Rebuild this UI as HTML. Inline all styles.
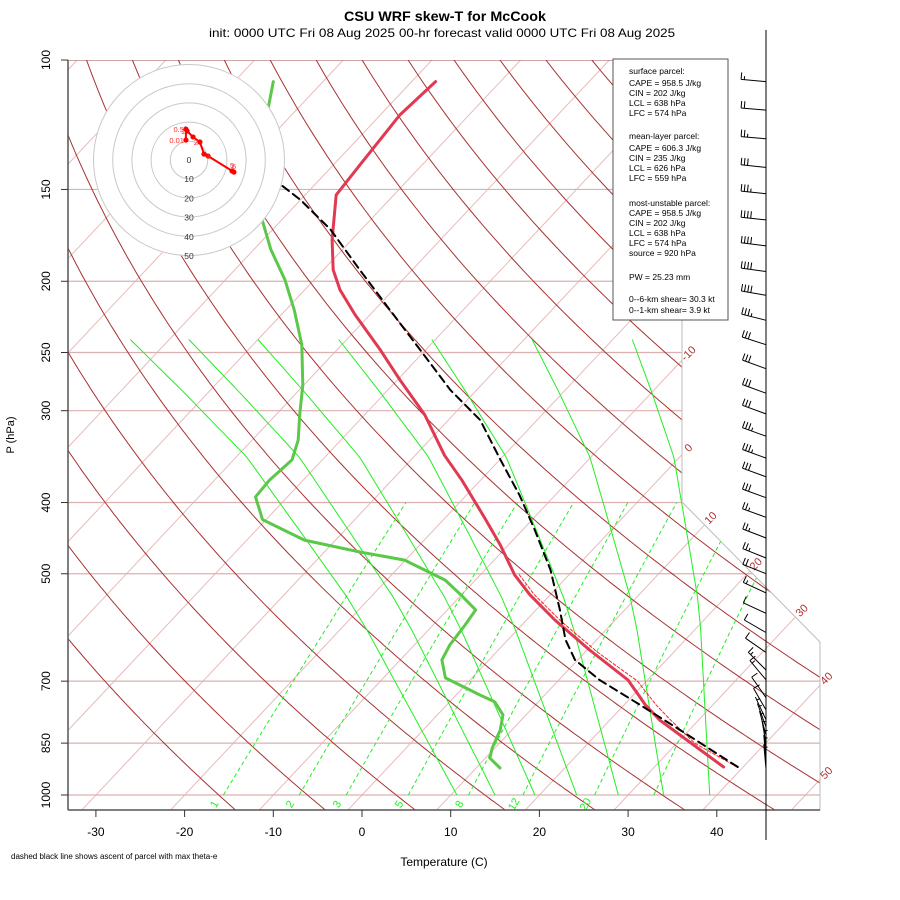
<!DOCTYPE html>
<html><head><meta charset="utf-8"><title>CSU WRF skew-T for McCook</title>
<style>body{margin:0;background:#fff}svg{display:block;font-family:"Liberation Sans",sans-serif}</style>
</head><body>
<svg id="chart" width="900" height="900" viewBox="0 0 900 900" xmlns="http://www.w3.org/2000/svg">
<defs><clipPath id="plotclip"><polygon points="68,60 682,60 682,502 820,642 820,810 68,810"/></clipPath></defs>
<text x="445" y="21" text-anchor="middle" font-size="14" font-weight="bold" textLength="202" lengthAdjust="spacingAndGlyphs">CSU WRF skew-T for McCook</text>
<text x="302" y="37" text-anchor="middle" font-size="12" textLength="186" lengthAdjust="spacingAndGlyphs">init: 0000 UTC Fri 08 Aug 2025</text>
<text x="537" y="37" text-anchor="middle" font-size="12" textLength="276" lengthAdjust="spacingAndGlyphs">00-hr forecast valid 0000 UTC Fri 08 Aug 2025</text>
<g id="grid" clip-path="url(#plotclip)"></g>
<g id="bound"></g>
<g id="traces" clip-path="url(#plotclip)"></g>
<g id="hodo"></g>
<g id="axes"></g>
<g id="barbs"></g>
<g id="info">
<rect x="613" y="59" width="115" height="261" fill="#fff" stroke="#555" stroke-width="1"/>
<g font-size="8.5" fill="#000">
<text x="629" y="74">surface parcel:</text>
<text x="629" y="86">CAPE = 958.5 J/kg</text>
<text x="629" y="96">CIN = 202 J/kg</text>
<text x="629" y="106">LCL = 638 hPa</text>
<text x="629" y="116">LFC = 574 hPa</text>
<text x="629" y="139">mean-layer parcel:</text>
<text x="629" y="151">CAPE = 606.3 J/kg</text>
<text x="629" y="161">CIN = 235 J/kg</text>
<text x="629" y="171">LCL = 626 hPa</text>
<text x="629" y="181">LFC = 559 hPa</text>
<text x="629" y="206">most-unstable parcel:</text>
<text x="629" y="216">CAPE = 958.5 J/kg</text>
<text x="629" y="226">CIN = 202 J/kg</text>
<text x="629" y="236">LCL = 638 hPa</text>
<text x="629" y="246">LFC = 574 hPa</text>
<text x="629" y="256">source = 920 hPa</text>
<text x="629" y="280">PW =  25.23 mm</text>
<text x="629" y="302">0--6-km shear= 30.3 kt</text>
<text x="629" y="313">0--1-km shear= 3.9 kt</text>
</g></g>
<text x="444" y="866" text-anchor="middle" font-size="12">Temperature (C)</text>
<text x="14" y="435" text-anchor="middle" font-size="11" transform="rotate(-90 14 435)">P (hPa)</text>
<text x="11" y="859" font-size="8">dashed black line shows ascent of parcel with max theta-e</text>
</svg>
<script>
// ---------- data ----------
const tempP = [916,790.6,754,697.5,635,578,534,502,457,420,373,345,304,272.5,248,222,205.5,193,175.7,152.6,139,128.5,118.8,107];
const tempT = [37.8,25.6,22.4,17.8,10.3,3.2,-2.3,-6.1,-10.9,-15.5,-22.1,-26.7,-33.2,-39.7,-45.1,-51.7,-56.0,-58.9,-62.2,-66.5,-67.0,-67.4,-67.8,-67.3];
const dewP = [919,890.7,863,816,778,747,731,693,655,625,587,560,534,510,479,467,450,422,393,373,350,329,304,277,244,219,199,181,165,141,117,107];
const dewT = [12.7,10.5,9.7,8.7,7.4,5.1,2.7,-3.0,-5.3,-6.0,-6.4,-6.8,-10.1,-13.4,-20.1,-26.0,-33.5,-40.4,-43.6,-43.8,-43.4,-44.8,-47.3,-50.1,-54.5,-59.0,-63.3,-68.1,-72.2,-76.6,-83.2,-85.6];
const parcelP = [916,816,754,697.5,655,615,560,494,436,391,350,309,281,248,219,193,170,155,148];
const parcelT = [39.4,29.0,21.8,14.6,9.7,6.5,2.7,-2.6,-8.6,-14.0,-19.9,-26.4,-33.0,-40.6,-48.2,-55.9,-63.5,-70.0,-73.7];
const virtP = [916,850,790,754,700,640,580,534,500];
const virtT = [39.3,32.0,26.8,23.6,19.0,11.5,4.0,-1.8,-5.8];
const barbP = [107,117,128,140,152,165,179,194,209,226,244,263,284,303,325,348,369,394,419,447,476,500,531,566,601,640,676,697,737,766,790,808,829,851,875,896,922];
const barbSpd = [15,20,25,30,35,40,40,40,40,35,30,30,30,30,35,35,30,30,25,25,25,20,15,10,10,10,15,15,10,10,5,5,5,5,5,5,5];
const barbDir = [275,275,275,276,276,276,277,278,280,284,288,290,290,290,290,290,290,290,290,291,292,292,295,295,300,305,315,320,325,330,335,340,345,350,355,355,355];
const hodoU = [-1.6,-1.6,-1.0,2.1,5.7,7.8,9.9,22.4,23.4];
const hodoV = [10.4,16.1,15.1,12.0,9.4,3.1,2.1,-5.7,-6.3];
const hodoLabels = ["0.01","0.5","1","","2","","4","5","6"];
const pTicks = [100,150,200,250,300,400,500,700,850,1000];
const tTicks = [-30,-20,-10,0,10,20,30,40];
const isoLabels = [-10,0,10,20,30,40,50];
const mixRatios = [1,2,3,5,8,12,20,30];
const mixLabels = ["1","2","3","5","8","12","20",""];
const moistBottom = [10.7,15.0,19.5,24.2,28.9,34.0,39.2];
const moistTop = [-74.4,-67.8,-60.0,-50.9,-40.4,-29.1,-17.8];
const moistShapeP = [1000,596,538,446,347,284,240];
const moistShapeF = [0,0.325,0.392,0.523,0.699,0.861,1];

// ---------- axes functions ----------
const Y0 = 795, PY = 319.2, XT = 8.87, X0 = 362, SK = 0.94;
function yOf(p){ return Y0 - PY*Math.log(1000/p); }
function xOf(T,p){ return X0 + XT*T + SK*(Y0 - yOf(p)); }
const NS = "http://www.w3.org/2000/svg";
function mk(tag, attrs, parent){ const e=document.createElementNS(NS,tag); for(const k in attrs) e.setAttribute(k,attrs[k]); parent.appendChild(e); return e; }
function pathFrom(pts){ return pts.map((q,i)=>(i?"L":"M")+q[0].toFixed(1)+","+q[1].toFixed(1)).join(""); }
const grid=document.getElementById('grid'), traces=document.getElementById('traces'), axes=document.getElementById('axes');

// isotherms
for(let T=-140;T<=60;T+=10){
  const pts=[[xOf(T,1050),yOf(1050)],[xOf(T,95),yOf(95)]];
  const e=mk('path',{d:pathFrom(pts),stroke:'#e8baba','stroke-width':1,fill:'none'},grid);
  
  
}
// pressure lines
pTicks.forEach(p=>{
  const e=mk('line',{x1:68,x2:820,y1:yOf(p),y2:yOf(p),stroke:(p==100?'#b07070':'#dcb0b0'),'stroke-width':1.2},grid);
  
  
});
// dry adiabats
for(let th=257;th<=520;th+=10){
  const pts=[];
  for(let p=1050;p>=95;p-=5){ const T=th*Math.pow(p/1000,0.2857)-273.15; pts.push([xOf(T,p),yOf(p)]); }
  const e=mk('path',{d:pathFrom(pts),stroke:'#a83232','stroke-width':1,fill:'none'},grid);
  
  
}
// mixing ratio lines
function tdFromW(w,p){ const e=w*p/(622+w); const l=Math.log(e/6.112); return 243.5*l/(17.67-l)+1.5; }
mixRatios.forEach((w,i)=>{
  const pts=[]; for(let p=1000;p>=400;p-=10) pts.push([xOf(tdFromW(w,p),p),yOf(p)]);
  const e=mk('path',{d:pathFrom(pts),stroke:'#22ee22','stroke-width':1,'stroke-dasharray':'4,3',fill:'none'},grid);
  
  
  if(mixLabels[i]){
    const x=xOf(tdFromW(w,1000),1000)-6, y=806;
    const t=mk('text',{x:x,y:y,'font-size':11,fill:'#22ee22','text-anchor':'middle',transform:`rotate(-60 ${x} ${y})`},grid);
    t.textContent=mixLabels[i];
    
    
  }
});
// moist adiabats (shape)
function shapeF(p){
  const lp=Math.log(p);
  for(let j=0;j<moistShapeP.length-1;j++){
    const a=Math.log(moistShapeP[j]), b=Math.log(moistShapeP[j+1]);
    if(lp<=a && lp>=b){ const t=(a-lp)/(a-b); return moistShapeF[j]+t*(moistShapeF[j+1]-moistShapeF[j]); }
  }
  return 1;
}
moistBottom.forEach((Tb,i)=>{
  const Tt=moistTop[i], pts=[];
  for(let p=1000;p>=240;p-=5){ const T=Tb+(Tt-Tb)*shapeF(p); pts.push([xOf(T,p),yOf(p)]); }
  const el=mk('path',{d:pathFrom(pts),stroke:'#22ee22','stroke-width':1,fill:'none'},grid);
  
  
});
// boundary
const bnd=mk('polyline',{points:'682,60 682,502 820,642 820,810 68,810',stroke:'#bbb','stroke-width':1,fill:'none'},document.getElementById('bound'));


function bx(y){ if(y<=502) return 682; if(y<=642) return 682+(y-502)*138/140; return 820; }
isoLabels.forEach(T=>{
  let y=795; while(y>60 && X0+XT*T+SK*(Y0-y) < bx(y)) y-=0.5;
  const x=bx(y)+9, yy=y-4;
  const t=mk('text',{x:x,y:yy,'font-size':11,fill:'#b03030','text-anchor':'middle',transform:`rotate(-45 ${x} ${yy})`},document.getElementById('bound'));
  t.textContent=String(T);
  
  
});
// traces
function trace(P,T,attrs,name){
  const e=mk('path',Object.assign({d:pathFrom(P.map((p,i)=>[xOf(T[i],p),yOf(p)])),fill:'none','stroke-linejoin':'round','stroke-linecap':'round'},attrs),traces);
  
  
}
trace(virtP,virtT,{stroke:'#ff2020','stroke-width':1,'stroke-dasharray':'3,2'},'virtual-temperature-line');
trace(dewP,dewT,{stroke:'#5cc84a','stroke-width':3},'dewpoint-line');
trace(tempP,tempT,{stroke:'#e03a52','stroke-width':3},'temperature-line');
trace(parcelP,parcelT,{stroke:'#000','stroke-width':2,'stroke-dasharray':'8,5'},'parcel-ascent-line');

// hodograph
const hodo=document.getElementById('hodo'), HX=189, HY=160, HS=1.92;
const hb=mk('circle',{cx:HX,cy:HY,r:96,fill:'#fff',stroke:'none'},hodo);


for(let k=1;k<=5;k++){
  const c=mk('circle',{cx:HX,cy:HY,r:k*10*HS-0.5,fill:'none',stroke:'#c8c8c8','stroke-width':1},hodo);
  
  
}
for(let k=0;k<=5;k++){
  const t=mk('text',{x:HX,y:HY+k*10*HS+3,'font-size':8.5,'text-anchor':'middle',fill:'#333'},hodo);
  t.textContent=String(k*10);
  
  
}
const hpts=hodoU.map((u,i)=>[HX+u*HS,HY-hodoV[i]*HS]);
const hl=mk('path',{d:pathFrom(hpts),stroke:'#ff0000','stroke-width':2,fill:'none'},hodo);


hpts.forEach((q,i)=>{
  const c=mk('circle',{cx:q[0],cy:q[1],r:2.6,fill:'#ff0000'},hodo);
  
  
  if(hodoLabels[i]){
    const t=mk('text',{x:q[0]-2,y:q[1]+(i>=7?-3:3),'font-size':7.5,fill:'#ff3030','text-anchor':(i>=6?'start':'end')},hodo);
    t.textContent=hodoLabels[i];
    
    
  }
});

// axes
mk('line',{x1:68,x2:68,y1:60,y2:810,stroke:'#555','stroke-width':1.5},axes);
mk('line',{x1:68,x2:820,y1:810,y2:810,stroke:'#555','stroke-width':1.5},axes);
pTicks.forEach(p=>{
  const y=yOf(p);
  mk('line',{x1:61,x2:68,y1:y,y2:y,stroke:'#333'},axes);
  const t=mk('text',{x:50,y:y,'font-size':12,'text-anchor':'middle',transform:`rotate(-90 50 ${y})`},axes);
  t.textContent=String(p);
  
  
});
tTicks.forEach(T=>{
  const x=X0+XT*T;
  mk('line',{x1:x,x2:x,y1:810,y2:817,stroke:'#333'},axes);
  const t=mk('text',{x:x,y:836,'font-size':12,'text-anchor':'middle'},axes);
  t.textContent=String(T);
  
  
});

// wind barbs
const barbs=document.getElementById('barbs'), AX=766;
const ax=mk('line',{x1:AX,x2:AX,y1:30,y2:840,stroke:'#000','stroke-width':1},barbs);


barbP.forEach((p,i)=>{
  const y=yOf(p), d=barbDir[i]*Math.PI/180, L=25;
  const ux=Math.sin(d), uy=-Math.cos(d);
  const tx=AX+ux*L, ty=y+uy*L;
  let s='M'+AX+','+y.toFixed(1)+'L'+tx.toFixed(1)+','+ty.toFixed(1);
  const fx=-uy, fy=ux;
  let spd=barbSpd[i], pos=0;
  while(spd>=10){ const bxp=tx-ux*pos, byp=ty-uy*pos; s+=`M${bxp.toFixed(1)},${byp.toFixed(1)}l${(fx*7).toFixed(1)},${(fy*7).toFixed(1)}`; pos+=3.2; spd-=10; }
  if(spd>=5){ if(pos===0) pos=3.2; const bxp=tx-ux*pos, byp=ty-uy*pos; s+=`M${bxp.toFixed(1)},${byp.toFixed(1)}l${(fx*3.5).toFixed(1)},${(fy*3.5).toFixed(1)}`; }
  const e=mk('path',{d:s,stroke:'#000','stroke-width':1,fill:'none'},barbs);
  
  
});
</script>
</body></html>
